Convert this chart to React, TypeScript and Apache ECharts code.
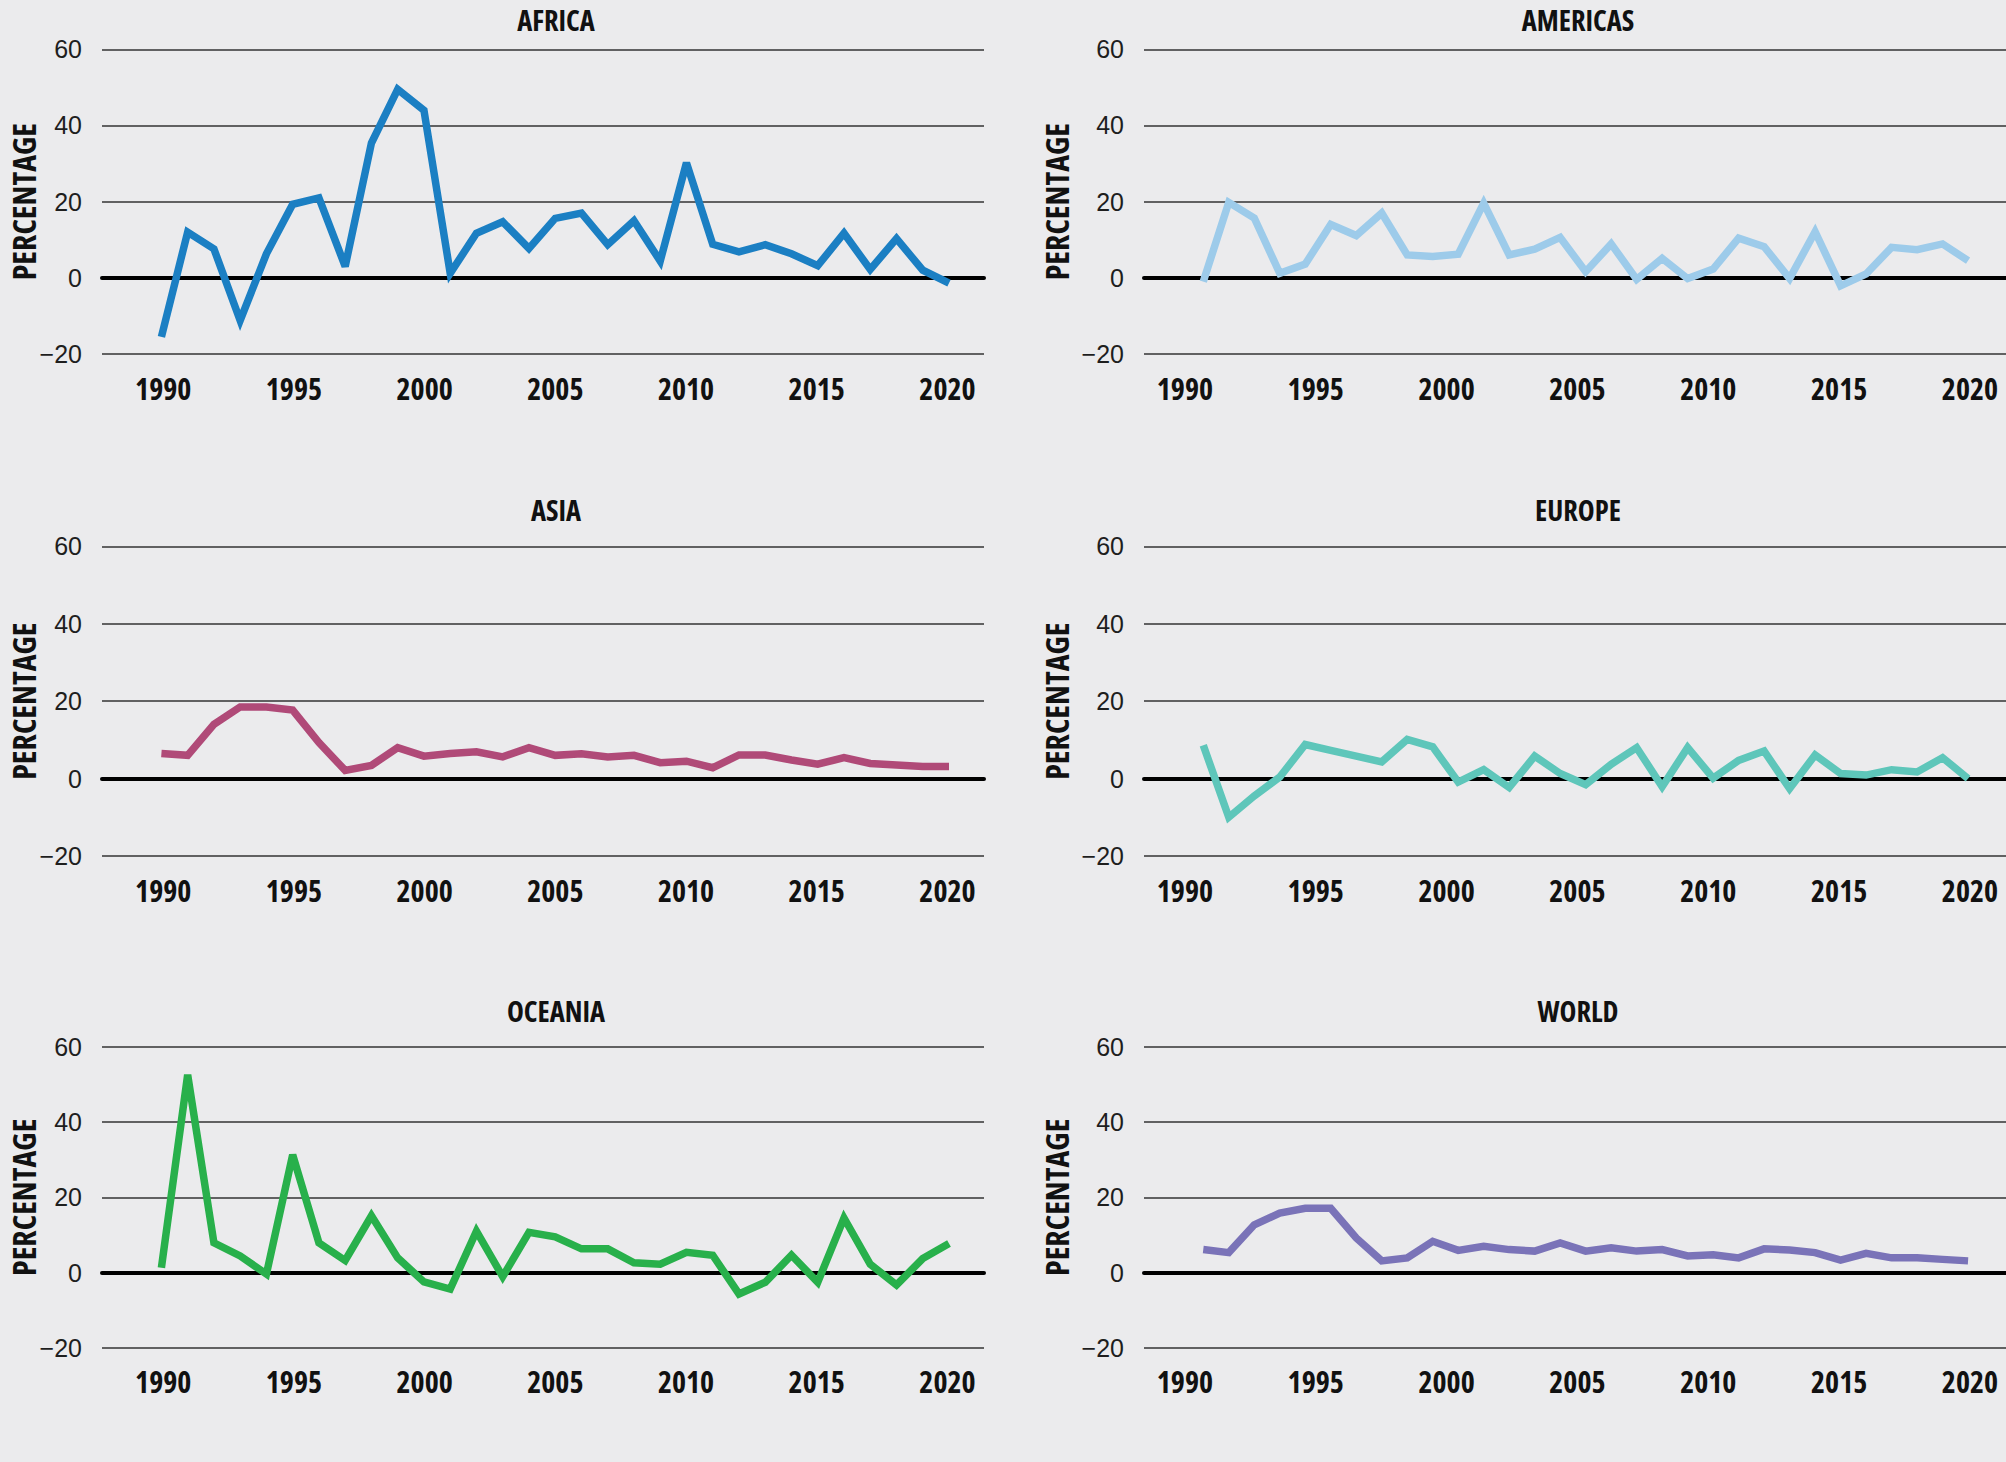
import React, { useEffect, useRef } from "react";
import * as echarts from "echarts";

// ---------- DATA ----------
const years = [
  1990, 1991, 1992, 1993, 1994, 1995, 1996, 1997, 1998, 1999, 2000, 2001, 2002, 2003, 2004, 2005,
  2006, 2007, 2008, 2009, 2010, 2011, 2012, 2013, 2014, 2015, 2016, 2017, 2018, 2019, 2020,
];
const africa = [
  -15.5, 12, 7.6, -11.2, 6.3, 19.3, 21, 3, 35.4, 49.5, 44, 1.2, 11.7, 14.7, 7.7, 15.6, 17, 8.7, 15,
  4.4, 30.2, 8.8, 6.8, 8.7, 6.3, 3.2, 11.7, 2.2, 10.3, 2, -1.4,
];
const americas = [
  -1, 19.8, 15.7, 1.2, 3.6, 14, 11.1, 17, 6, 5.6, 6.2, 19.6, 6, 7.5, 10.6, 1.6, 8.9, -0.4, 5.1,
  -0.2, 2.3, 10.4, 8.2, -0.2, 12.1, -2.1, 1, 8, 7.4, 8.9, 4.5,
];
const asia = [
  6.5, 6, 14, 18.5, 18.5, 17.7, 9.3, 2.1, 3.4, 8, 5.8, 6.5, 6.9, 5.6, 8, 6, 6.4, 5.6, 6, 4.1, 4.5,
  2.8, 6.1, 6.1, 4.8, 3.7, 5.4, 3.9, 3.5, 3.1, 3.1,
];
const europe = [
  8.6, -10, -4.5, 0.4, 8.8, 7.3, 5.8, 4.3, 10.1, 8.2, -0.9, 2.3, -2.3, 5.8, 1.3, -1.6, 3.7, 8, -2.1,
  8, 0.1, 4.7, 7.1, -2.6, 6.1, 1.3, 0.9, 2.3, 1.7, 5.4, 0,
];
const oceania = [
  1.3, 52.6, 7.9, 4.4, -0.4, 31.3, 7.9, 3.2, 15.1, 3.9, -2.5, -4.4, 11, -1.1, 10.7, 9.5, 6.3, 6.3,
  2.6, 2.2, 5.4, 4.6, -5.7, -2.6, 4.6, -2.6, 14.5, 2.2, -3.3, 3.7, 7.7,
];
const world = [
  6.1, 5.3, 12.7, 15.8, 17.1, 17.1, 9.2, 3.1, 3.9, 8.3, 5.9, 7, 6.1, 5.7, 7.9, 5.7, 6.6, 5.7, 6.1,
  4.4, 4.7, 3.9, 6.3, 6, 5.3, 3.3, 5.1, 3.9, 3.9, 3.5, 3.1,
];
const panelTitles = ["AFRICA", "AMERICAS", "ASIA", "EUROPE", "OCEANIA", "WORLD"];
const panelValues = [africa, americas, asia, europe, oceania, world];
const panelColors = ["#1b7fc3", "#9dcbea", "#b04a78", "#5ec6ba", "#28b04b", "#7a73b8"];
const xTickYears = [1990, 1995, 2000, 2005, 2010, 2015, 2020];
const yMin = -20;
const yMax = 60;
const yStep = 20;
const yAxisName = "PERCENTAGE";

// ---------- LAYOUT (positions / styles only) ----------
const W = 2006;
const H = 1462;
const BG = "#ebebed";
const CONDENSED = "'Open Sans';font-stretch:condensed";
const REGULAR = "'Liberation Sans', Arial, sans-serif";

const cols = [
  { left: 102, width: 882, dataMin: 1987.737, dataMax: 2021.333, labMin: 1987.658, labMax: 2021.398, nameGap: 63, titleX: 556 },
  { left: 1144, width: 864, dataMin: 1987.675, dataMax: 2021.488, labMin: 1988.437, labMax: 2021.376, nameGap: 71.5, titleX: 1578 },
];
const rows = [
  { top: 49.3, height: 304.7, titleY: 19.5 },
  { top: 546.3, height: 309.7, titleY: 510 },
  { top: 1047, height: 300.7, titleY: 1010.5 },
];

function fmtY(v: number) {
  return v < 0 ? "\u2212" + Math.abs(v) : String(v);
}

export default function App() {
  const ref = useRef<HTMLDivElement>(null);

  useEffect(() => {
    if (!ref.current) return;
    const chart = echarts.init(ref.current, undefined, { renderer: "svg" });

    const grid: any[] = [];
    const xAxis: any[] = [];
    const yAxis: any[] = [];
    const series: any[] = [];
    const graphic: any[] = [];

    panelTitles.forEach((title, i) => {
      const c = cols[i % 2];
      const r = rows[Math.floor(i / 2)];
      grid.push({ left: c.left, top: r.top, width: c.width, height: r.height, containLabel: false });

      // data axis: carries the thick zero line
      xAxis.push({
        type: "value",
        gridIndex: i,
        min: c.dataMin,
        max: c.dataMax,
        axisLine: { show: true, onZero: true, lineStyle: { color: "#000", width: 4 } },
        axisTick: { show: false },
        axisLabel: { show: false },
        splitLine: { show: false },
      });
      // label axis: year labels
      xAxis.push({
        type: "value",
        gridIndex: i,
        position: "bottom",
        min: c.labMin,
        max: c.labMax,
        axisLine: { show: false, onZero: false },
        axisTick: { show: false },
        splitLine: { show: false },
        axisLabel: {
          customValues: xTickYears,
          formatter: (v: number) => String(Math.round(v)),
          fontSize: 30,
          lineHeight: 30,
          fontWeight: "bold",
          fontFamily: CONDENSED,
          color: "#111",
          margin: 19,
        },
      });

      yAxis.push({
        type: "value",
        gridIndex: i,
        min: yMin,
        max: yMax,
        interval: yStep,
        axisLine: { show: false },
        axisTick: { show: false },
        axisLabel: {
          formatter: fmtY,
          fontSize: 25,
          fontFamily: REGULAR,
          color: "#1e1e1e",
          margin: 20,
        },
        splitLine: { show: true, lineStyle: { color: "#333", width: 1.5 } },
        name: yAxisName,
        nameLocation: "middle",
        nameGap: c.nameGap,
        nameMoveOverlap: false,
        nameTextStyle: {
          fontSize: 32,
          lineHeight: 32,
          fontWeight: "bold",
          fontFamily: CONDENSED,
          color: "#111",
        },
      });

      series.push({
        type: "line",
        name: title,
        xAxisIndex: 2 * i,
        yAxisIndex: i,
        data: years.map((yr, j) => [yr, panelValues[i][j]]),
        symbol: "none",
        showSymbol: false,
        lineStyle: { width: 7.5, color: panelColors[i], join: "miter", miterLimit: 3, cap: "butt" },
        itemStyle: { color: panelColors[i] },
        z: 3,
      });

      graphic.push({
        type: "text",
        x: c.titleX,
        y: r.titleY,
        style: {
          text: title,
          fontSize: 28.5,
          lineHeight: 28.5,
          fontWeight: "bold",
          fontFamily: CONDENSED,
          fill: "#111",
          textAlign: "center",
          textVerticalAlign: "middle",
        },
      });
    });

    chart.setOption({
      animation: false,
      backgroundColor: BG,
      grid,
      xAxis,
      yAxis,
      series,
      graphic,
    });

    return () => chart.dispose();
  }, []);

  return (
    <div
      ref={ref}
      style={{ position: "fixed", left: 0, top: 0, width: W, height: H, background: BG }}
    />
  );
}
